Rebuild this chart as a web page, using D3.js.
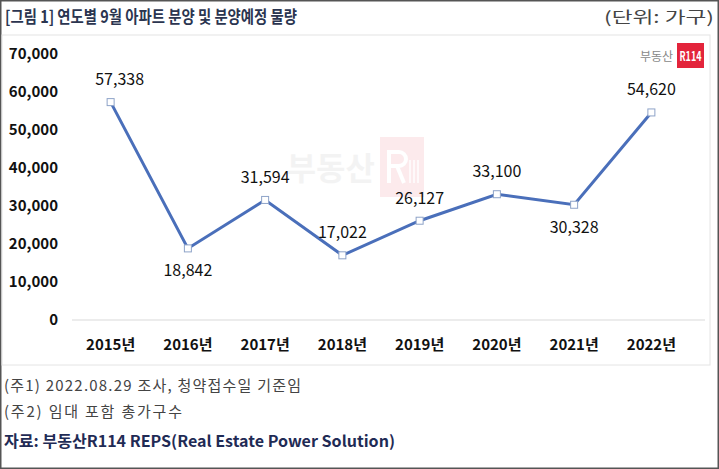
<!DOCTYPE html>
<html><head><meta charset="utf-8">
<script src="https://cdn.jsdelivr.net/npm/d3@7"></script>
<style>body{margin:0;background:#fff}svg{display:block}text{font-family:"Noto Sans CJK KR","Noto Sans",sans-serif}</style>
</head><body>
<svg id="c" width="719" height="469"></svg>
<script>
const years = ["2015년","2016년","2017년","2018년","2019년","2020년","2021년","2022년"];
const values = [57338,18842,31594,17022,26127,33100,30328,54620];
const labelPos = ["above","below","above","above","above","above","below","above"];
const yTicks = [0,10000,20000,30000,40000,50000,60000,70000];
const title = "[그림 1] 연도별 9월 아파트 분양 및 분양예정 물량";
const unit = "(단위: 가구)";
const notes = ["(주1) 2022.08.29 조사, 청약접수일 기준임","(주2) 임대 포함 총가구수"];
const source = "자료: 부동산R114 REPS(Real Estate Power Solution)";

const svg = d3.select("#c");
svg.append("rect").attr("x",0.75).attr("y",0.75).attr("width",717.5).attr("height",467.5).attr("fill","#fff").attr("stroke","#555").attr("stroke-width",1.5);
svg.append("rect").attr("x",2).attr("y",35).attr("width",708).attr("height",330).attr("fill","#fff").attr("stroke","#e4e4e4");

svg.append("text").attr("x",5).attr("y",23).attr("font-size",17).attr("font-weight","bold").attr("fill","#2b3550")
  .attr("textLength",292).attr("lengthAdjust","spacingAndGlyphs").text(title);
svg.append("text").attr("x",714).attr("y",23).attr("text-anchor","end").attr("font-size",16).attr("fill","#444")
  .attr("textLength",110).attr("lengthAdjust","spacingAndGlyphs").text(unit);

// watermark (faint logo shapes)
const wm = svg.append("g").attr("opacity",0.09);
wm.append("text").attr("x",375).attr("y",180).attr("text-anchor","end").attr("font-size",32).attr("font-weight","bold").attr("fill","#888").text("부동산");
wm.append("rect").attr("x",380).attr("y",137).attr("width",44).attr("height",60).attr("fill","#e2233a");
wm.append("path").attr("fill","none").attr("stroke","#fff").attr("stroke-width",4)
  .attr("d","M389,183 V152 H399 A7,7 0 0 1 399,166 H389 M397,166 L404,183");
[410,414,418].forEach(xx=>wm.append("line").attr("x1",xx).attr("x2",xx).attr("y1",160).attr("y2",183).attr("stroke","#fff").attr("stroke-width",1.5));

// logo
svg.append("text").attr("x",673).attr("y",61).attr("text-anchor","end").attr("font-size",12).attr("fill","#888").text("부동산");
svg.append("rect").attr("x",677).attr("y",43).attr("width",27).attr("height",25).attr("fill","#e3243b");
svg.append("text").attr("x",690.5).attr("y",61).attr("text-anchor","middle").attr("font-size",13).attr("font-weight","bold").attr("fill","#fff").text("R114").attr("textLength",22).attr("lengthAdjust","spacingAndGlyphs");

const x = d3.scaleBand().domain(years).range([72,690]);
const y = d3.scaleLinear().domain([0,70000]).range([320,54]);

svg.append("line").attr("x1",72).attr("x2",705).attr("y1",y(0)).attr("y2",y(0)).attr("stroke","#d9d9d9");

const yAxis = svg.append("g").attr("transform","translate(58,0)")
  .call(d3.axisLeft(y).tickValues(yTicks).tickSize(0).tickPadding(0).tickFormat(d3.format(",")));
yAxis.select(".domain").remove();
yAxis.selectAll("text").attr("font-size",15).attr("font-weight","bold").attr("fill","#111").attr("font-family","\"Noto Sans CJK KR\",sans-serif");

const xAxis = svg.append("g").attr("transform",`translate(0,${y(0)+19})`)
  .call(d3.axisBottom(x).tickSize(0).tickPadding(0));
xAxis.select(".domain").remove();
xAxis.selectAll("text").attr("font-size",15).attr("font-weight","bold").attr("fill","#111").attr("font-family","\"Noto Sans CJK KR\",sans-serif");

const cx = d => x(d) + x.bandwidth()/2;
const line = d3.line().x((d,i)=>cx(years[i])).y(d=>y(d));
svg.append("path").datum(values).attr("d",line).attr("fill","none").attr("stroke","#4a6fba").attr("stroke-width",3);
svg.selectAll(".m").data(values).join("rect").attr("class","m")
  .attr("x",(d,i)=>cx(years[i])-3.5).attr("y",d=>y(d)-3.5).attr("width",7).attr("height",7)
  .attr("fill","#fff").attr("stroke","#8ea3c8").attr("stroke-width",1);
const firstShift = 9; // first label sits slightly right of its point in the reference
svg.selectAll(".lbl").data(values).join("text").attr("class","lbl")
  .attr("x",(d,i)=>cx(years[i]) + (i===0?firstShift:0))
  .attr("y",(d,i)=>labelPos[i]==="above"? y(d)-17 : y(d)+28)
  .attr("text-anchor","middle").attr("font-size",16).attr("fill","#111").text(d=>d3.format(",")(d));

svg.selectAll(".note").data(notes).join("text").attr("class","note")
  .attr("x",4).attr("y",(d,i)=>391+i*26).attr("font-size",15).attr("fill","#444")
  .attr("textLength",(d,i)=>i===0?297:178).attr("lengthAdjust","spacing").text(d=>d);
svg.append("text").attr("x",4).attr("y",447).attr("font-size",15.5).attr("font-weight","bold").attr("fill","#1f2b55")
  .attr("textLength",391).attr("lengthAdjust","spacingAndGlyphs").text(source);
</script>
</body></html>
